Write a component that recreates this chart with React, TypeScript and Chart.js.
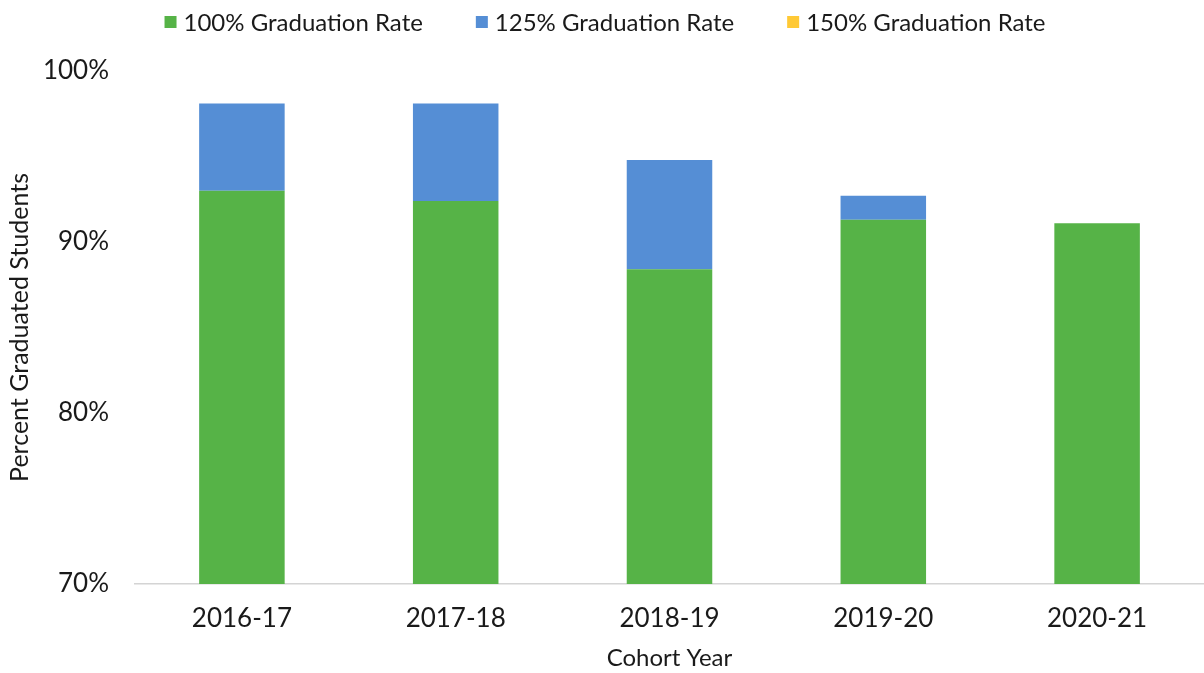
import { useEffect, useRef } from "react";
import { Chart, registerables } from "chart.js";

Chart.register(...registerables);

const categories = ["2016-17", "2017-18", "2018-19", "2019-20", "2020-21"];
const rate100 = [93.0, 92.4, 88.4, 91.3, 91.1];
const rate125 = [5.1, 5.7, 6.4, 1.4, 0];
const rate150 = [0, 0, 0, 0, 0];
const seriesNames = ["100% Graduation Rate", "125% Graduation Rate", "150% Graduation Rate"];
const seriesColors = ["#56B347", "#558ED5", "#FFC935"];
const yTickValues = [70, 80, 90, 100];

const FONT = "Lato";
const TEXT_COLOR = "#1a1a1a";

const legendPlugin = {
  id: "topLegend",
  afterDraw(chart: any) {
    const ctx = chart.ctx;
    const items = chart.data.datasets;
    ctx.save();
    ctx.font = `24px ${FONT}`;
    const box = 12;
    const gap = 7;
    const spacing = 53;
    const widths = items.map((d: any) => ctx.measureText(d.label).width);
    const total =
      widths.reduce((a: number, w: number) => a + box + gap + w, 0) + spacing * (items.length - 1);
    let x = (chart.width - total) / 2 + 3;
    const y = 22;
    items.forEach((d: any, i: number) => {
      ctx.fillStyle = d.backgroundColor;
      ctx.fillRect(x, y - box / 2, box, box);
      ctx.fillStyle = TEXT_COLOR;
      ctx.textBaseline = "middle";
      ctx.textAlign = "left";
      ctx.fillText(d.label, x + box + gap, y + 1);
      x += box + gap + widths[i] + spacing;
    });
    ctx.restore();
  },
};

export default function App() {
  const ref = useRef<HTMLCanvasElement | null>(null);

  useEffect(() => {
    let chart: Chart | null = null;
    let cancelled = false;
    const make = () => {
      if (cancelled || !ref.current) return;
      chart = new Chart(ref.current, {
        type: "bar",
        data: {
          labels: categories,
          datasets: [
            { label: seriesNames[0], data: rate100, backgroundColor: seriesColors[0] },
            { label: seriesNames[1], data: rate125, backgroundColor: seriesColors[1] },
            { label: seriesNames[2], data: rate150, backgroundColor: seriesColors[2] },
          ],
        },
        options: {
          animation: false,
          responsive: true,
          maintainAspectRatio: false,
          datasets: { bar: { categoryPercentage: 1, barPercentage: 0.4 } },
          layout: { padding: { top: 71, right: 0, bottom: 0, left: 0 } },
          plugins: {
            legend: { display: false },
            tooltip: { enabled: false },
          },
          scales: {
            x: {
              stacked: true,
              grid: { display: false, drawTicks: false },
              border: { display: true, color: "#d4d4d4", width: 1.5 },
              ticks: {
                color: TEXT_COLOR,
                font: { family: FONT, size: 26 },
                padding: 19,
              },
              title: {
                display: true,
                text: "Cohort Year",
                color: TEXT_COLOR,
                font: { family: FONT, size: 24 },
                padding: { top: 0, bottom: 0 },
              },
              afterFit(scale: any) {
                scale.height = 89;
              },
            },
            y: {
              stacked: true,
              min: 70,
              max: 100,
              grid: { display: false, drawTicks: false },
              border: { display: false },
              ticks: {
                color: TEXT_COLOR,
                font: { family: FONT, size: 26 },
                padding: 26,
                callback: (v: any) => `${v}%`,
              },
              afterBuildTicks(scale: any) {
                scale.ticks = yTickValues.map((v) => ({ value: v }));
              },
              title: {
                display: true,
                text: "Percent Graduated Students",
                color: TEXT_COLOR,
                font: { family: FONT, size: 25 },
                padding: { top: 5, bottom: 0 },
              },
              afterFit(scale: any) {
                scale.width = 135;
              },
            },
          },
        },
        plugins: [legendPlugin],
      });
    };
    const fonts: any = (document as any).fonts;
    if (fonts && fonts.load) {
      Promise.all([fonts.load(`24px ${FONT}`), fonts.load(`bold 24px ${FONT}`)])
        .catch(() => null)
        .then(make);
    } else {
      make();
    }
    return () => {
      cancelled = true;
      if (chart) chart.destroy();
    };
  }, []);

  return (
    <div style={{ position: "fixed", left: 0, top: 0, width: 1204, height: 673, background: "#fff" }}>
      <canvas ref={ref} />
    </div>
  );
}
